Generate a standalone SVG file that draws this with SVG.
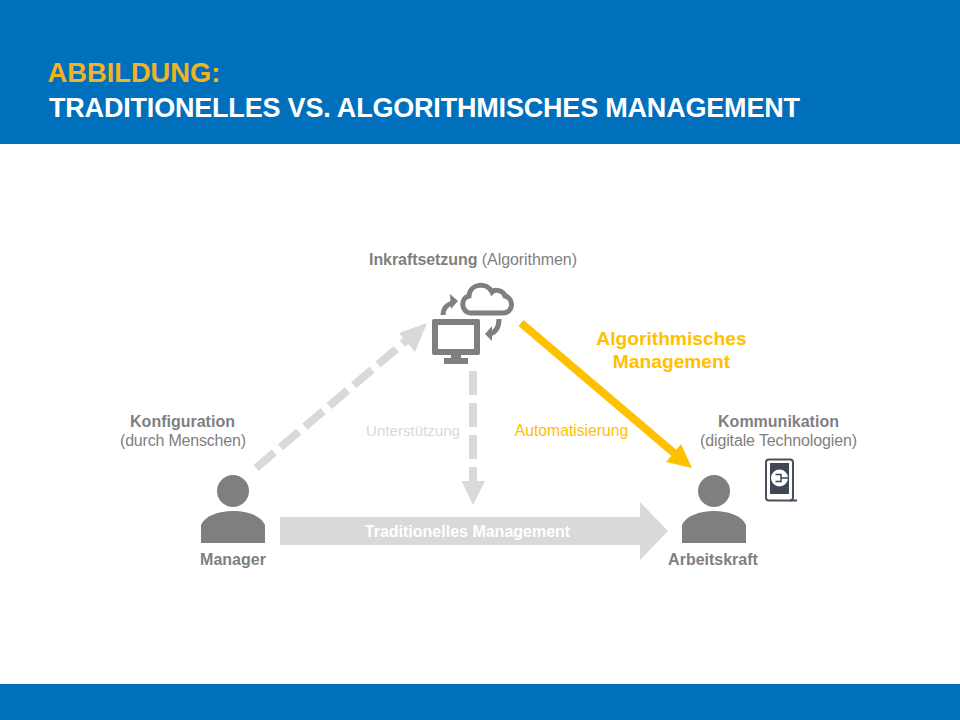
<svg xmlns="http://www.w3.org/2000/svg" width="960" height="720" viewBox="0 0 960 720">
<style>
text{font-family:"Liberation Sans",Arial,sans-serif;text-anchor:middle}
.g{fill:#7f7f7f}
.b{font-weight:bold}
.t{font-size:16px;fill:#7f7f7f}
.d{fill:none;stroke:#d9d9d9;stroke-width:8;stroke-dasharray:24 8}
</style>
<defs>
<g id="person"><circle cx="0" cy="16" r="16"/><path d="M-32 68V50C-28 41-15 36 0 36S28 41 32 50V68Z"/></g>
</defs>
<rect id="header" width="960" height="144" fill="#0070bc"/>
<rect id="footer" y="684" width="960" height="36" fill="#0070bc"/>
<text x="47.500" y="82" style="text-anchor:start;font-size:27.300px;font-weight:bold" fill="#f0b323">ABBILDUNG:</text>
<text x="49" y="117" style="text-anchor:start;font-size:27px;font-weight:bold" fill="#fff" textLength="751" lengthAdjust="spacing">TRADITIONELLES VS. ALGORITHMISCHES MANAGEMENT</text>
<g id="connectors">
<path class="d" d="M256 468L414 334"/>
<path fill="#d9d9d9" d="M427 323L399 333L415 352Z"/>
<path class="d" d="M473 371V481"/>
<path fill="#d9d9d9" d="M461.500 481H485L473 505Z"/>
<path fill="#d9d9d9" d="M280 517H640V502L668 531L640 560V545H280Z"/>
<path fill="none" stroke="#ffc000" stroke-width="8" d="M521 323L674 453"/>
<path fill="#ffc000" d="M692 468L666 462L681 444Z"/>
</g>
<g id="labels">
<text x="467.500" y="537" style="font-size:16px;font-weight:bold" fill="#fff">Traditionelles Management</text>
<text x="413" y="436" style="font-size:15.100px" fill="#d9d9d9">Unterstützung</text>
<text x="571.500" y="436" style="font-size:15.700px" fill="#ffc000">Automatisierung</text>
<text style="font-size:19.200px;font-weight:bold" fill="#ffc000"><tspan x="671.500" y="345">Algorithmisches</tspan><tspan x="671.500" y="368">Management</tspan></text>
</g>
<g id="inkraft">
<text x="473" y="265" class="t" textLength="208"><tspan class="b">Inkraftsetzung</tspan> (Algorithmen)</text>
<path fill="none" stroke="#7f7f7f" stroke-width="5" d="M471 313H503C514 313 514 298 505 296C503 290 495 289 492 292C487 282 470 283 469 296C460 298 461 313 471 313Z"/>
<rect class="g" x="432" y="319" width="48" height="36" rx="2"/>
<rect x="438" y="325" width="36" height="24" fill="#fff"/>
<rect class="g" x="451" y="354" width="10" height="6"/>
<rect class="g" x="444" y="358" width="24" height="6"/>
<path fill="none" stroke="#7f7f7f" stroke-width="5" d="M443 315C443 309 446 305 452 303"/>
<path class="g" d="M450 294L458 301L451 309Z"/>
<path fill="none" stroke="#7f7f7f" stroke-width="5" d="M499 319C499 326 496 332 490 334"/>
<path class="g" d="M492 326L485 334L492 341Z"/>
</g>
<g id="manager">
<text class="t b" x="182.500" y="427">Konfiguration</text>
<text class="t" x="183" y="446" textLength="126">(durch Menschen)</text>
<use href="#person" x="233" y="475" class="g"/>
<text class="t b" x="233" y="565">Manager</text>
</g>
<g id="arbeitskraft">
<text class="t b" x="778.500" y="427">Kommunikation</text>
<text class="t" x="778.500" y="446" textLength="157">(digitale Technologien)</text>
<use href="#person" x="714" y="475" class="g"/>
<text class="t b" x="713" y="565">Arbeitskraft</text>
</g>
<g id="phone">
<rect x="766" y="459.500" width="27" height="41" rx="3" fill="#fff" stroke="#47505c" stroke-width="2"/>
<path d="M790 500.500H797" stroke="#47505c" stroke-width="2"/>
<rect x="770" y="463" width="19" height="31" fill="#3f4753"/>
<circle cx="779.500" cy="478" r="8.500" fill="#fff"/>
<path d="M775.500 474.500H781V481.500H775.500M781 478H788" fill="none" stroke="#3f4753" stroke-width="1.500"/>
</g>
</svg>
